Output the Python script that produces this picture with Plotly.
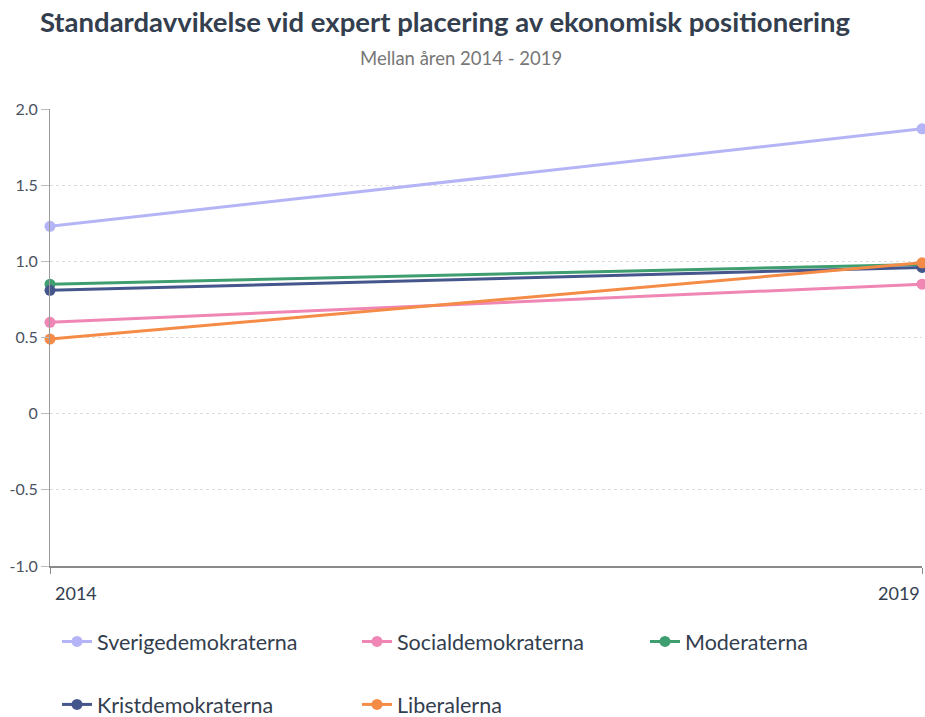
import plotly.graph_objects as go

years = [2014, 2019]
parties = ["Sverigedemokraterna", "Socialdemokraterna", "Moderaterna",
           "Kristdemokraterna", "Liberalerna"]
sd = [1.23, 1.87]
s = [0.60, 0.85]
m = [0.85, 0.98]
kd = [0.81, 0.96]
lib = [0.49, 0.99]
y_ticks = [-1.0, -0.5, 0, 0.5, 1.0, 1.5, 2.0]
y_labels = ["-1.0", "-0.5", "0", "0.5", "1.0", "1.5", "2.0"]

colors = ["#b4b4f7", "#ef86b4", "#3f9e70", "#45568c", "#f48c47"]
series = [sd, s, m, kd, lib]
legend_of = ["legend", "legend2", "legend3", "legend", "legend2"]

W, H = 925, 717
L, R, T, B = 50, 3, 109, 151

fig = go.Figure()
for name, vals, col, lg in zip(parties, series, colors, legend_of):
    fig.add_trace(go.Scatter(
        x=years, y=vals, name=name, mode="lines+markers",
        line=dict(color=col, width=3),
        marker=dict(color=col, size=11),
        cliponaxis=False, legend=lg, legendgroup=name,
    ))

grid = "#dcdcdc"
fig.update_layout(
    width=W, height=H,
    margin=dict(l=L, r=R, t=T, b=B, autoexpand=False),
    paper_bgcolor="white", plot_bgcolor="white",
    font=dict(family="Lato", color="#333"),
    title=dict(
        text="<b>Standardavvikelse vid expert placering av ekonomisk positionering</b>",
        x=445 / W, xanchor="center", y=1 - 22 / H, yanchor="middle",
        font=dict(size=27.5, color="#333e4e"),
    ),
    xaxis=dict(
        range=[2014, 2019], showgrid=False, zeroline=False,
        showline=True, linecolor="#8a8a8a", linewidth=2,
        showticklabels=False, ticks="outside", ticklen=6,
        tickcolor="#8a8a8a", tickvals=years,
    ),
    yaxis=dict(
        range=[-1, 2], tickvals=y_ticks, ticktext=y_labels,
        showgrid=True, gridcolor=grid, griddash="dot", gridwidth=1,
        zeroline=False, showline=True, linecolor="#9a9a9a", linewidth=1,
        ticks="outside", ticklen=8, tickcolor="#bbbbbb",
        tickfont=dict(size=16, color="#4a5260"),
    ),
    showlegend=True,
)

legend_style = dict(
    orientation="v", xref="container", yref="container",
    yanchor="top", xanchor="left", tracegroupgap=32,
    font=dict(size=21.5, color="#333e4e"), bgcolor="rgba(0,0,0,0)",
)
fig.update_layout(
    legend=dict(x=57 / W, y=1 - 621 / H, **legend_style),
    legend2=dict(x=357 / W, y=1 - 621 / H, **legend_style),
    legend3=dict(x=645 / W, y=1 - 621 / H, **legend_style),
)

plot_w = W - L - R
plot_h = H - T - B
fig.add_annotation(text="Mellan åren 2014 - 2019", xref="paper", yref="paper",
                   x=(461 - L) / plot_w, y=1 + (T - 58) / plot_h,
                   xanchor="center", yanchor="middle", showarrow=False,
                   font=dict(size=18.5, color="#777"))

for yr, anchor in zip(years, ["left", "right"]):
    fig.add_annotation(text=str(yr), x=yr, xref="x", y=0, yref="paper",
                       yanchor="top", xanchor=anchor, yshift=-14,
                       xshift=3 if anchor == "left" else 0,
                       showarrow=False, font=dict(size=18, color="#333e4e"))

# drop the default body margin so the figure fills the window exactly
fig.write_html("out.html", config={"displayModeBar": False},
               post_script="document.body.style.margin='0';"
                           "document.body.style.overflow='hidden';")
